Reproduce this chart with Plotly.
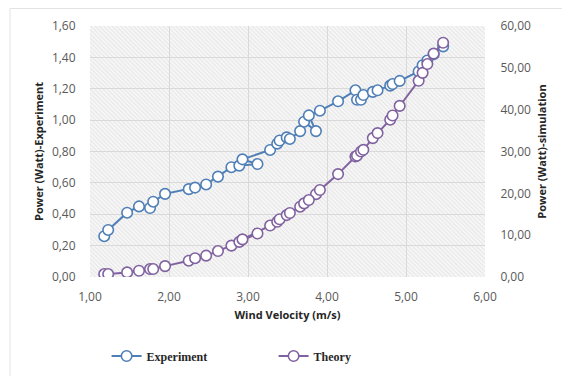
import base64
import plotly.graph_objects as go

wind_velocity = [1.18, 1.23, 1.47, 1.62, 1.76, 1.80, 1.95, 2.25, 2.33, 2.47,
                 2.62, 2.79, 2.89, 3.12, 2.93, 3.28, 3.37, 3.40, 3.49, 3.53,
                 3.66, 3.71, 3.86, 3.77, 3.91, 4.14, 4.36, 4.38, 4.43, 4.46,
                 4.58, 4.64, 4.80, 4.83, 4.92, 5.16, 5.21, 5.27, 5.35, 5.47]
power_experiment = [0.26, 0.30, 0.41, 0.45, 0.44, 0.48, 0.53, 0.56, 0.57, 0.59,
                    0.64, 0.70, 0.71, 0.72, 0.75, 0.81, 0.85, 0.87, 0.89, 0.88,
                    0.93, 0.99, 0.93, 1.03, 1.06, 1.12, 1.19, 1.13, 1.13, 1.16,
                    1.18, 1.19, 1.22, 1.23, 1.25, 1.31, 1.35, 1.38, 1.42, 1.47]
power_theory = [0.7, 0.7, 1.1, 1.5, 1.9, 1.9, 2.6, 3.9, 4.5, 5.1,
                6.2, 7.5, 8.4, 10.4, 9.0, 12.3, 13.2, 13.8, 14.8, 15.3,
                16.8, 17.6, 19.8, 18.4, 20.8, 24.6, 28.8, 29.0, 30.0, 30.4,
                33.2, 34.4, 37.6, 38.6, 40.9, 46.9, 48.8, 50.9, 53.4, 56.0]

BLUE = "#4f7fb6"
PURPLE = "#8062a0"

fig = go.Figure()
fig.add_trace(go.Scatter(
    x=wind_velocity, y=power_experiment, name="Experiment", mode="lines+markers",
    line=dict(color=BLUE, width=2),
    marker=dict(symbol="circle", size=10.5, color="white", line=dict(color=BLUE, width=1.6)),
    yaxis="y"))
fig.add_trace(go.Scatter(
    x=wind_velocity, y=power_theory, name="Theory", mode="lines+markers",
    line=dict(color=PURPLE, width=2),
    marker=dict(symbol="circle", size=10.5, color="white", line=dict(color=PURPLE, width=1.6)),
    yaxis="y2"))

svg = ('<svg xmlns="http://www.w3.org/2000/svg" width="395" height="251">'
       '<defs><pattern id="p" width="3" height="3" patternUnits="userSpaceOnUse" '
       'patternTransform="rotate(-45)"><line x1="0" y1="0" x2="0" y2="3" '
       'stroke="#dcdcdc" stroke-width="1.2"/></pattern></defs>'
       '<rect width="100%" height="100%" fill="#f6f6f6"/>'
       '<rect width="100%" height="100%" fill="url(#p)"/></svg>')
src = "data:image/svg+xml;base64," + base64.b64encode(svg.encode()).decode()

tickfont = dict(family="Open Sans, Liberation Sans, sans-serif", size=12, color="#595959")
titlefont = dict(family="Open Sans, Liberation Sans, sans-serif", size=11, color="#262626")

# page has an 8px body margin; figure-coordinates compensate for it
L, T, PW, PH = 82, 18, 395, 251

fig.update_layout(
    width=570, height=376,
    margin=dict(l=L, r=570 - L - PW, t=T, b=376 - T - PH),
    paper_bgcolor="white", plot_bgcolor="#f4f4f4",
    separators=",.",
    showlegend=True,
    images=[dict(source=src, xref="paper", yref="paper", x=0, y=1, sizex=1, sizey=1,
                 sizing="stretch", layer="below", xanchor="left", yanchor="top")],
    xaxis=dict(range=[1, 6], dtick=1, tick0=1, tickformat=".2f", showgrid=True,
               gridcolor="#d9d9d9", gridwidth=1, zeroline=False, showline=False,
               automargin=False,
               ticks="outside", ticklen=9, tickcolor="rgba(0,0,0,0)", tickfont=tickfont,
               title=dict(text="<b>Wind Velocity (m/s)</b>", font=titlefont, standoff=6)),
    yaxis=dict(range=[0, 1.6], dtick=0.2, tickformat=".2f", showgrid=True,
               gridcolor="#d9d9d9", gridwidth=1, zeroline=False, showline=False,
               automargin=False,
               ticks="outside", ticklen=11, tickcolor="rgba(0,0,0,0)", tickfont=tickfont,
               title=dict(text="<b>Power (Watt)-Experiment</b>", font=titlefont, standoff=6)),
    yaxis2=dict(range=[0, 60], dtick=10, tickformat=".2f", overlaying="y", side="right",
                showgrid=False, zeroline=False, showline=False, automargin=False,
                ticks="outside", ticklen=12, tickcolor="rgba(0,0,0,0)", tickfont=tickfont,
                title=dict(text="<b>Power (Watt)-simulation</b>", font=titlefont, standoff=8)),
    legend=dict(orientation="h", x=0.042, xanchor="left",
                yref="container", y=1 - 348 / 376, yanchor="middle",
                entrywidth=122, entrywidthmode="pixels", itemwidth=30,
                font=dict(family="Liberation Serif, Times New Roman, serif", size=12,
                          color="#262626", weight="bold"),
                bgcolor="rgba(0,0,0,0)"),
    shapes=[dict(type="rect", xref="paper", yref="paper",
                 x0=(2 - L) / PW, x1=(575 - L) / PW,
                 y0=(T + PH - 400) / PH, y1=(T + PH - 0.5) / PH,
                 line=dict(color="#e3e3e3", width=1), fillcolor="rgba(0,0,0,0)", layer="below")],
)

fig.write_html("out.html")
